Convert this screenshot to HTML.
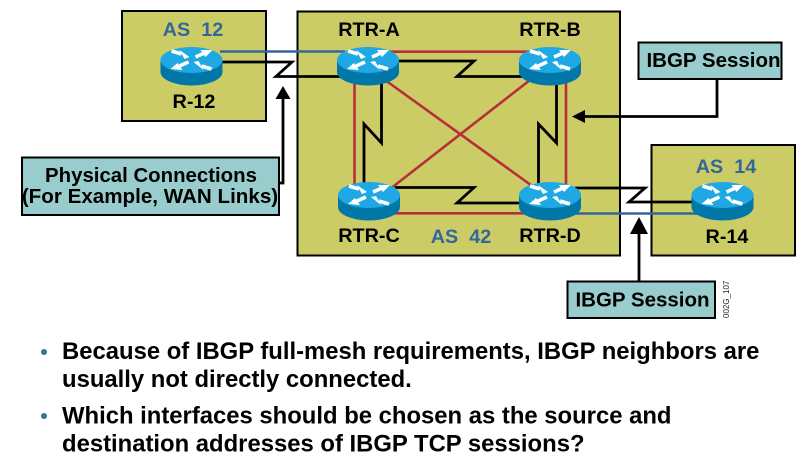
<!DOCTYPE html>
<html><head><meta charset="utf-8"><style>
html,body{margin:0;padding:0;background:#fff;width:800px;height:465px;overflow:hidden}
svg{display:block}
text{font-family:"Liberation Sans",sans-serif;font-weight:bold}
</style></head><body>
<svg width="800" height="465" viewBox="0 0 800 465" xmlns="http://www.w3.org/2000/svg">
<defs>
<g id="rt">
<path d="M-31,0 V12 A31,13.5 0 0 0 31,12 V0 Z" fill="#0077a6"/>
<ellipse cx="0" cy="0" rx="31" ry="13" fill="#1fa8e4"/>
<g fill="#fff" stroke="#fff" stroke-width="3.600">
<path d="M-20,-9 L-10,-6"/>
<path d="M4,-3 L13,-7"/>
<path d="M-3,2 L-12,6"/>
<path d="M20,9 L10,6"/>
</g>
<g fill="#fff">
<path d="M-2,-3 L-12,-10 L-7,-1 Z"/>
<path d="M21,-10 L9,-10 L14,-3 Z"/>
<path d="M-21,9 L-9,10 L-14,3 Z"/>
<path d="M2,2 L12,10 L7,1 Z"/>
</g>
</g>
</defs>

<rect x="122" y="11" width="144" height="110" fill="#cccc66" stroke="#000" stroke-width="2"/>
<rect x="297.500" y="11.500" width="322.500" height="244" fill="#cccc66" stroke="#000" stroke-width="2"/>
<rect x="651.500" y="145" width="143.500" height="110.500" fill="#cccc66" stroke="#000" stroke-width="2"/>

<!-- red mesh -->
<g fill="none" stroke="#b82e3a" stroke-width="2.600">
<path d="M368,51.700 H550"/>
<path d="M368,213.300 H550"/>
<path d="M354.500,75 V200"/>
<path d="M566,75 V200"/>
<path d="M385,80 L535,188"/>
<path d="M530,80 L390,189"/>
</g>

<!-- blue links -->
<path d="M220,51.500 H345" stroke="#336699" stroke-width="2.500" fill="none"/>
<path d="M575,213.500 H700" stroke="#336699" stroke-width="2.500" fill="none"/>

<!-- black serial links -->
<g fill="none" stroke="#000" stroke-width="2.800" stroke-linejoin="miter">
<path d="M215,62 H292 L276,76.500 H345"/>
<path d="M395,61 H474 L457,76.500 H530"/>
<path d="M395,187.500 H474 L457,203 H530"/>
<path d="M381.500,80 V143 L364,124 V190"/>
<path d="M556.500,80 V143 L538.500,124 V190"/>
<path d="M575,188 H645 L629,202 H700"/>
</g>

<!-- routers -->
<use href="#rt" x="191.500" y="60"/>
<use href="#rt" x="368" y="60"/>
<use href="#rt" x="550" y="60"/>
<use href="#rt" x="369" y="195"/>
<use href="#rt" x="550" y="195"/>
<use href="#rt" x="722.500" y="195"/>

<!-- callouts arrows -->
<g fill="none" stroke="#000" stroke-width="2.800">
<path d="M283,97 V183 H279"/>
<path d="M717,79 V116.500 H584"/>
<path d="M639,221 V282"/>
</g>
<path d="M283,86 L290.500,99 H275.500 Z" fill="#000"/>
<path d="M572,116.500 L585,110 V123 Z" fill="#000"/>
<path d="M639,217 L648,234 H630 Z" fill="#000"/>

<rect x="22" y="157.500" width="257" height="57.500" fill="#99cccc" stroke="#000" stroke-width="2"/>
<rect x="638.500" y="42.500" width="143" height="36.500" fill="#99cccc" stroke="#000" stroke-width="2"/>
<rect x="567.500" y="281.500" width="147.500" height="36.500" fill="#99cccc" stroke="#000" stroke-width="2"/>

<!-- labels -->
<g text-anchor="middle" fill="#000">
<text x="151" y="182" font-size="20.400">Physical Connections</text>
<text x="150" y="203" font-size="20.600">(For Example, WAN Links)</text>
<text x="713.500" y="67" font-size="20.500">IBGP Session</text>
<text x="642.500" y="306.500" font-size="20.500">IBGP Session</text>
<text x="369" y="36" font-size="19.800">RTR-A</text>
<text x="550" y="36" font-size="19.800">RTR-B</text>
<text x="369" y="242" font-size="19.800">RTR-C</text>
<text x="550" y="242" font-size="19.800">RTR-D</text>
<text x="194" y="108" font-size="19.800">R-12</text>
<text x="727" y="243" font-size="19.800">R-14</text>
</g>
<g font-size="19.800" text-anchor="middle" fill="#336699">
<text x="193" y="36" xml:space="preserve">AS  12</text>
<text x="726" y="173" xml:space="preserve">AS  14</text>
<text x="461" y="243" xml:space="preserve">AS  42</text>
</g>
<text transform="translate(729,318) rotate(-90)" font-size="8" style="font-weight:normal" fill="#222">002G_107</text>

<!-- bullets -->
<circle cx="44" cy="352" r="3" fill="#33758a"/>
<circle cx="44" cy="416" r="3" fill="#33758a"/>
<g font-size="23.850" fill="#000">
<text x="62" y="359">Because of IBGP full-mesh requirements, IBGP neighbors are</text>
<text x="62" y="387">usually not directly connected.</text>
<text x="62" y="423.500">Which interfaces should be chosen as the source and</text>
<text x="62" y="451.500">destination addresses of IBGP TCP sessions?</text>
</g>
</svg>
</body></html>
